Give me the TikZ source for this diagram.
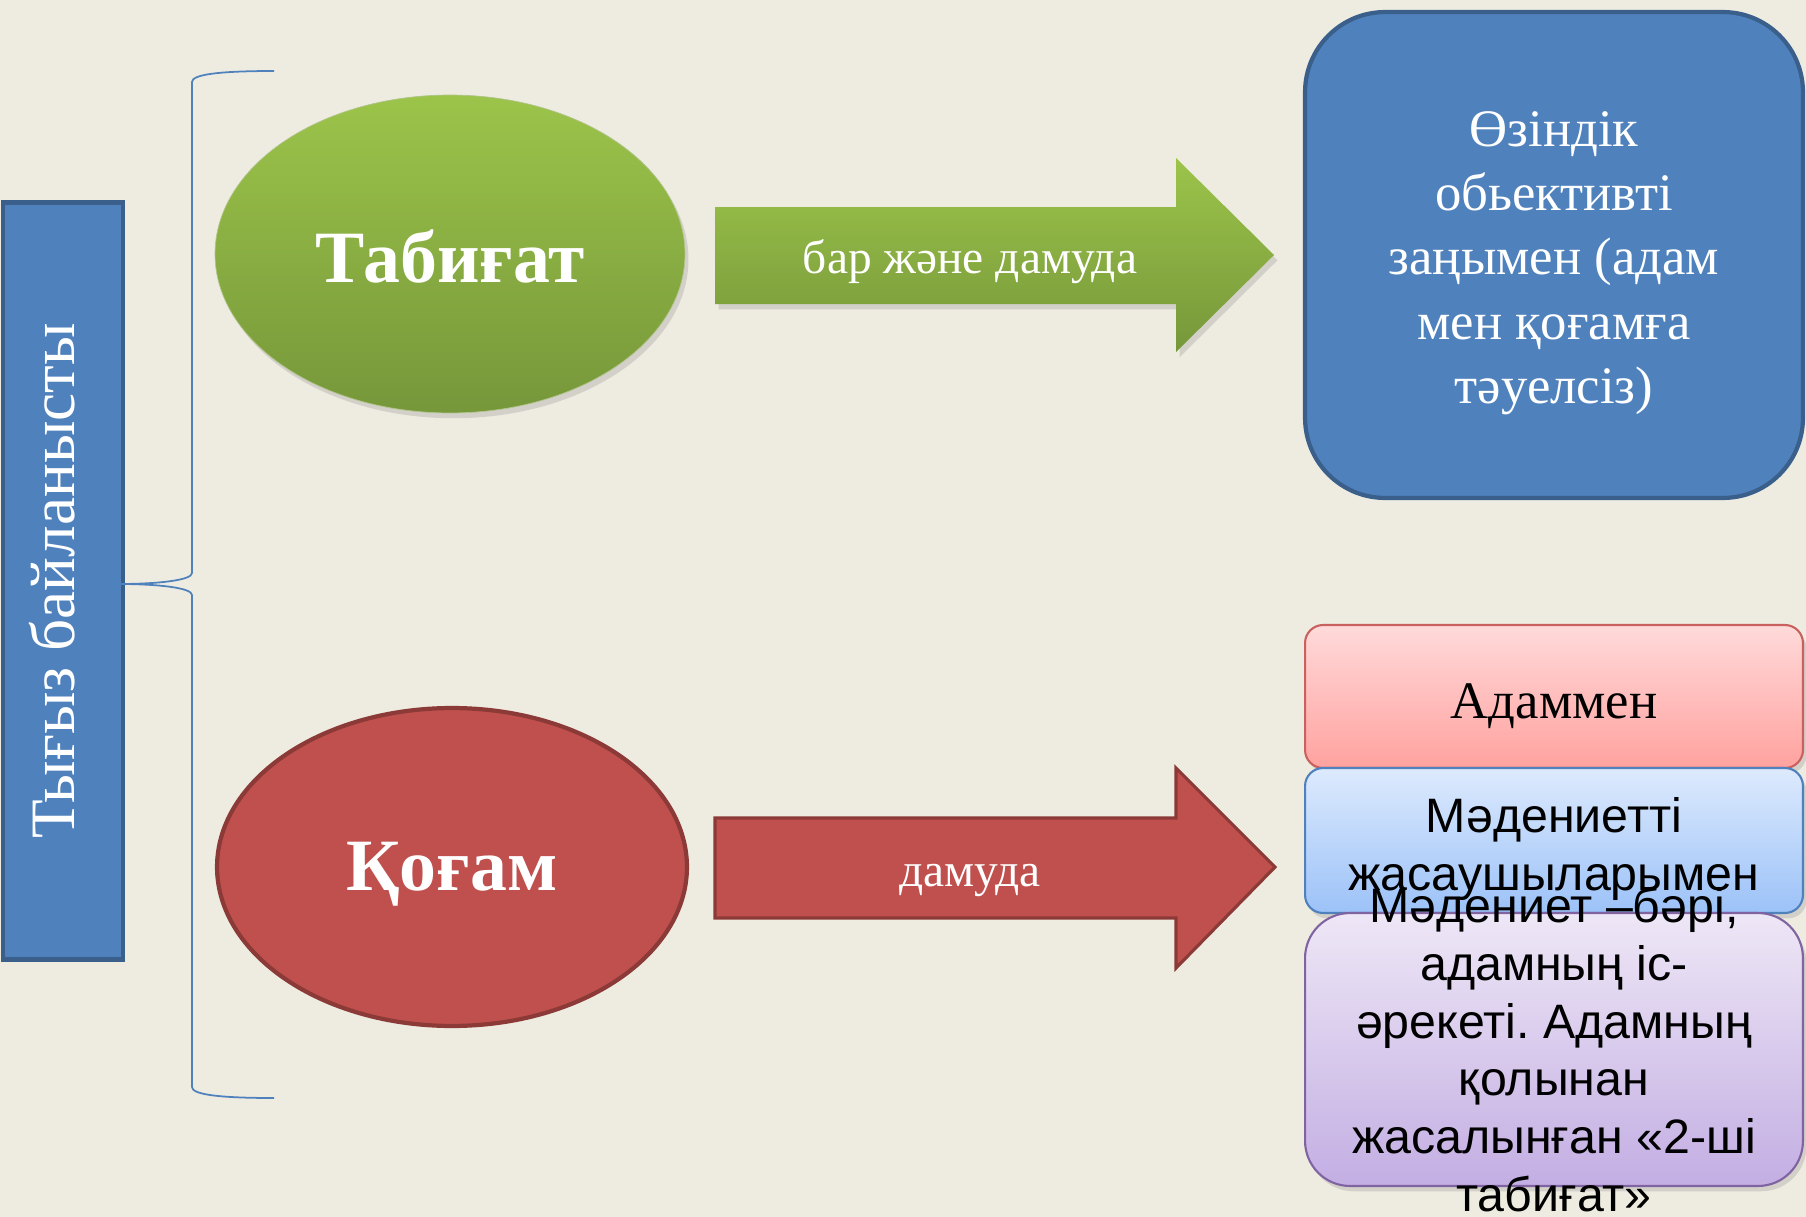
\documentclass[tikz,border=0pt]{standalone}
\usepackage{fontspec}
\setmainfont{Liberation Serif}
\newfontfamily\arialfont{Liberation Sans}
\usetikzlibrary{shapes.geometric,shadows}
\frenchspacing

\definecolor{bgtan}{HTML}{EEECE1}
\definecolor{officeblue}{HTML}{4F81BD}
\definecolor{blueedge}{HTML}{3A5F8B}
\definecolor{greentop}{HTML}{9CC44A}
\definecolor{greenbot}{HTML}{76973A}
\definecolor{redfill}{HTML}{C0504D}
\definecolor{rededge}{HTML}{8C3A38}
\definecolor{pinktop}{HTML}{FFDADA}
\definecolor{pinkbot}{HTML}{FFA29F}
\definecolor{pinkedge}{HTML}{C9615E}
\definecolor{skytop}{HTML}{DDEAFD}
\definecolor{skybot}{HTML}{9CC2F8}
\definecolor{lilactop}{HTML}{EEE7F6}
\definecolor{lilacbot}{HTML}{C3AEE3}
\definecolor{lilacedge}{HTML}{8064A2}

\tikzset{
	softshadow/.style={drop shadow={opacity=0.25,shadow xshift=2pt,shadow yshift=-3pt}},
	oval/.style={ellipse, minimum width=9.4cm, minimum height=6.36cm, inner sep=0pt},
	ovaltext/.style={text=white, font=\fontsize{42}{46}\selectfont\bfseries},
	stackbox/.style={rectangle, minimum width=9.96cm, inner sep=0pt, line width=1.2pt},
	arrowlbl/.style={text=white, font=\fontsize{27}{31}\selectfont},
	sanstext/.style={align=center, font=\arialfont\fontsize{27.5}{32.8}\selectfont}
}

\begin{document}
\begin{tikzpicture}[x=0.02cm,y=-0.02cm]
	\fill[bgtan] (0,0) rectangle (1806,1217);
	\useasboundingbox (0,0) rectangle (1806,1217);

	\node[rectangle, fill=officeblue, draw=blueedge, line width=2.8pt, minimum width=2.4cm, minimum height=15.16cm] (tygyz) at (63,581) {};
	\node[rotate=90, text=white, font=\fontsize{36}{40}\selectfont] (tygyztext) at (52,581) {Тығыз байланысты};

	\draw[officeblue, line width=1pt] (274,71) .. controls (215,71) and (192,75) .. (192,82) -- (192,573)
		.. controls (192,580) and (160,584) .. (118,584) .. controls (160,584) and (192,588) .. (192,595)
		-- (192,1087) .. controls (192,1094) and (215,1098) .. (274,1098);

	\node[oval, softshadow, top color=greentop, bottom color=greenbot, draw=greentop!80!black!60, line width=0.4pt] (tabigat) at (450,254) {};
	\node[ovaltext] (tabigattext) at (450,256) {Табиғат};
	\node[oval, fill=redfill, draw=rededge, line width=2.4pt] (kogam) at (452,867) {};
	\node[ovaltext] (kogamtext) at (452,874) {Қоғам};

	\shade[softshadow, top color=greentop, bottom color=greenbot] (715,207) -- (1176,207) -- (1176,158) -- (1274,255)
		-- (1176,352) -- (1176,304) -- (715,304) -- cycle;
	\node[arrowlbl] (barlbl) at (970,262) {бар және дамуда};

	\filldraw[fill=redfill, draw=rededge, line width=1.8pt] (715,818) -- (1176,818) -- (1176,768) -- (1275,867)
		-- (1176,968) -- (1176,918) -- (715,918) -- cycle;
	\node[arrowlbl] (damlbl) at (970,880) {дамуда};

	\node[rectangle, rounded corners=1.6cm, fill=officeblue, draw=blueedge, line width=2.4pt,
		minimum width=9.96cm, minimum height=9.72cm] (zan) at (1554,255) {};
	\node[text=white, align=center, font=\fontsize{30}{36.6}\selectfont] (zantext) at (1554,263)
		{Өзіндік\\обьективті\\заңымен (адам\\мен қоғамға\\тәуелсіз)};

	\node[stackbox, softshadow, rounded corners=0.36cm, minimum height=2.86cm, top color=pinktop, bottom color=pinkbot,
		draw=pinkedge] (adam) at (1554,696.5) {};
	\node[font=\fontsize{30}{34}\selectfont] (adamtext) at (1554,706) {Адаммен};
	\node[stackbox, softshadow, rounded corners=0.36cm, minimum height=2.9cm, top color=skytop, bottom color=skybot,
		draw=officeblue] (madeni) at (1554,840.5) {};
	\node[sanstext] (madenitext) at (1554,849) {Мәдениетті\\жасаушыларымен};
	\node[stackbox, softshadow, rounded corners=0.9cm, minimum height=5.46cm, top color=lilactop, bottom color=lilacbot,
		draw=lilacedge] (madeniet) at (1554,1049.5) {};
	\node[sanstext] (madtext) at (madeniet.center)
		{Мәдениет –бәрі,\\адамның іс-\\әрекеті. Адамның\\қолынан\\жасалынған «2-ші\\табиғат»};
\end{tikzpicture}
\end{document}
